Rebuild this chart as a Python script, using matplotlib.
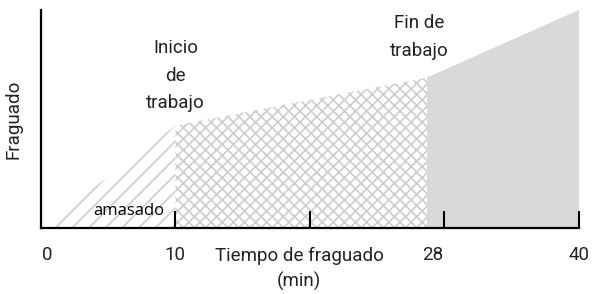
import matplotlib
matplotlib.use('Agg')
import matplotlib.pyplot as plt

# data
t_amasado = [0, 10]
f_amasado = [0, 0.47]
t_trabajo = [10, 28.7]
f_trabajo = [0.47, 0.69]
t_fin = [28.7, 40]
f_fin = [0.69, 1.0]

tick_marks = [10, 20, 30, 40]
tick_label_pos = [0.5, 10, 29.1, 40]
tick_labels = ['0', '10', '28', '40']

plt.rcParams['font.family'] = ['Roboto', 'DejaVu Sans']
plt.rcParams['hatch.linewidth'] = 1.2

fig = plt.figure(figsize=(5.92, 2.94), dpi=100)
ax = fig.add_axes([0.069, 0.2245, 0.909, 0.7415])

hatch_col = '#cdcdcd'
ax.fill_between(t_amasado, 0, f_amasado, facecolor='white', edgecolor=hatch_col,
                hatch='//', linewidth=0)
ax.fill_between(t_trabajo, 0, f_trabajo, facecolor='white', edgecolor=hatch_col,
                hatch='xxx', linewidth=0)
ax.fill_between(t_fin, 0, f_fin, facecolor='#d9d9d9', linewidth=0)

ax.set_xlim(0, 40)
ax.set_ylim(0, 1.0)

for s in ['top', 'right']:
    ax.spines[s].set_visible(False)
for s in ['left', 'bottom']:
    ax.spines[s].set_linewidth(1.6)

ax.set_yticks([])
ax.set_xticks(tick_marks)
ax.set_xticklabels([])
ax.tick_params(axis='x', which='major', direction='in', length=12, width=1.5)

txt = dict(fontsize=13.5, color='#222222')
for pos, lab in zip(tick_label_pos, tick_labels):
    ax.text(pos, -0.125, lab, ha='center', va='center', **txt)

ax.set_ylabel('Fraguado', labelpad=13, **txt)

ax.text(19.2, -0.085, 'Tiempo de fraguado\n(min)', ha='center', va='top',
        linespacing=1.5, **txt)
ax.text(10, 0.53, 'Inicio\nde\ntrabajo', ha='center', va='bottom',
        linespacing=1.7, **txt)
ax.text(28.1, 0.77, 'Fin de\ntrabajo', ha='center', va='bottom',
        linespacing=1.7, **txt)
ax.text(6.5, 0.08, 'amasado', ha='center', va='center', fontsize=12,
        family=['Open Sans', 'DejaVu Sans'], color='black')

fig.savefig('out.png', dpi=100)
